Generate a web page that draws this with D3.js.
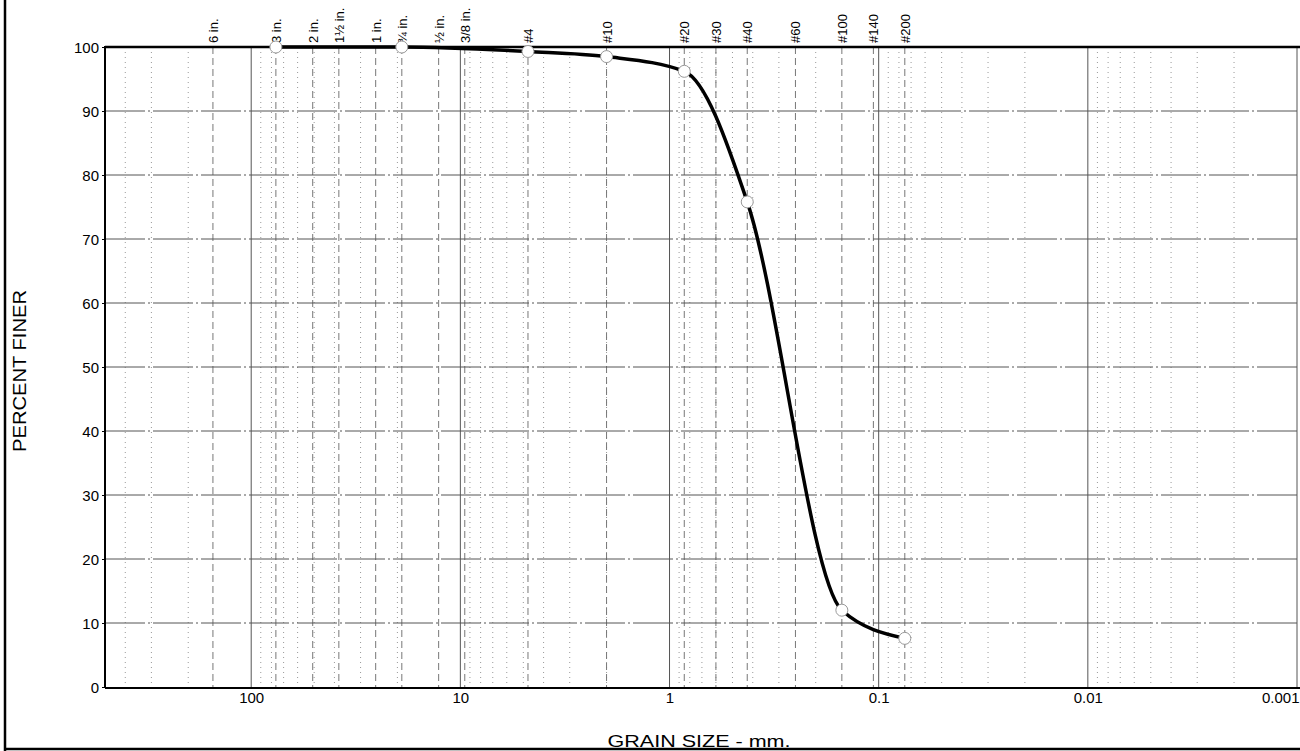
<!DOCTYPE html>
<html><head><meta charset="utf-8">
<script src="https://cdn.jsdelivr.net/npm/d3@7"></script>
<style>body{margin:0;background:#fff}svg{display:block}text{font-family:"Liberation Sans",Arial,sans-serif;fill:#000}</style>
</head><body><svg id="c" width="1300" height="751"></svg>
<script>
// ---- data ----
const sieveLabels = ["6 in.","3 in.","2 in.","1\u00bd in.","1 in.","\u00be in.","\u00bd in.","3/8 in.","#4","#10","#20","#30","#40","#60","#100","#140","#200"];
const sieveSizes  = [152.4, 76.2, 50.8, 38.1, 25.4, 19.05, 12.7, 9.525, 4.75, 2.0, 0.85, 0.6, 0.425, 0.25, 0.15, 0.106, 0.075];
const grainSize   = [76.2, 19.05, 4.75, 2.0, 0.85, 0.425, 0.15, 0.075];
const percentFiner= [100, 100, 99.3, 98.5, 96.2, 75.8, 12.0, 7.6];
const xTickValues = [100, 10, 1, 0.1, 0.01, 0.001];
const xTickLabels = ["100","10","1","0.1","0.01","0.001"];
const yTickValues = [0,10,20,30,40,50,60,70,80,90,100];

const svg = d3.select("#c");
const L=105, R=1297, T=47, B=687;
const x = d3.scaleLog().domain([500, 0.001]).range([L, R]);
const y = d3.scaleLinear().domain([0, 100]).range([B, T]);

// outer frame
svg.append("line").attr("x1",5).attr("x2",5).attr("y1",0).attr("y2",751).attr("stroke","#000").attr("stroke-width",2.5);
svg.append("line").attr("x1",5).attr("x2",1300).attr("y1",749).attr("y2",749).attr("stroke","#000").attr("stroke-width",2.5);

const grid = svg.append("g");
// minor log grid
const minors = [];
for (let e=-3; e<=2; e++) for (let k=1; k<=9; k++) { const v=k*Math.pow(10,e); if (v<=500 && v>=0.001) minors.push(v); }
const isDec = d => Math.abs(Math.log10(d)-Math.round(Math.log10(d)))<1e-9;
grid.selectAll(".mn").data(minors).join("line")
  .attr("x1",d=>x(d)).attr("x2",d=>x(d)).attr("y1",T).attr("y2",B)
  .attr("stroke",d=>isDec(d)?"#555":"#999")
  .attr("stroke-width",1)
  .attr("stroke-dasharray",d=>isDec(d)?null:"1,4");
// sieve lines
grid.selectAll(".sv").data(sieveSizes).join("line")
  .attr("x1",d=>x(d)).attr("x2",d=>x(d)).attr("y1",T).attr("y2",B)
  .attr("stroke","#777").attr("stroke-width",1).attr("stroke-dasharray","7,4");
// horizontal grid
grid.selectAll(".hz").data(yTickValues.filter(v=>v>0&&v<100)).join("line")
  .attr("x1",L).attr("x2",R).attr("y1",d=>y(d)).attr("y2",d=>y(d))
  .attr("stroke","#555").attr("stroke-width",1).attr("stroke-dasharray","40,3,2,3");

// axes frame
svg.append("line").attr("x1",L).attr("x2",R+3).attr("y1",T).attr("y2",T).attr("stroke","#000").attr("stroke-width",2.5);
svg.append("line").attr("x1",L).attr("x2",L).attr("y1",T-1).attr("y2",B+1).attr("stroke","#000").attr("stroke-width",2);
svg.append("line").attr("x1",L).attr("x2",R+3).attr("y1",B+1).attr("y2",B+1).attr("stroke","#000").attr("stroke-width",2);

// y axis
const ya = d3.axisLeft(y).tickValues(yTickValues).tickSize(3).tickPadding(3);
const yg = svg.append("g").attr("transform",`translate(${L},0)`).call(ya);
yg.select(".domain").remove();
yg.selectAll("text").style("font-size","15px").attr("dy","0.35em");
// x axis
const xa = d3.axisBottom(x).tickValues(xTickValues).tickFormat((d,i)=>xTickLabels[i]).tickSize(0).tickPadding(5);
const xg = svg.append("g").attr("transform",`translate(0,${B})`).call(xa);
xg.select(".domain").remove();
xg.selectAll("text").style("font-size","15px");
xg.selectAll(".tick").filter(d=>d===0.001).select("text").attr("text-anchor","end").attr("dx","2");

// sieve labels
svg.selectAll(".sl").data(sieveSizes).join("text")
  .attr("transform",d=>`translate(${x(d)+5},43) rotate(-90)`)
  .style("font-size","13px").text((d,i)=>sieveLabels[i]);

// axis titles
svg.append("text").attr("transform","translate(26,371) rotate(-90)").attr("text-anchor","middle")
  .style("font-size","18px").attr("textLength",162).attr("lengthAdjust","spacingAndGlyphs").text("PERCENT FINER");
svg.append("text").attr("x",699).attr("y",747).attr("text-anchor","middle")
  .style("font-size","17px").attr("textLength",183).attr("lengthAdjust","spacingAndGlyphs").text("GRAIN SIZE - mm.");

// curve
const pts = grainSize.map((g,i)=>[x(g), y(percentFiner[i])]);
svg.append("path").attr("d", d3.line().curve(d3.curveMonotoneX)(pts))
  .attr("fill","none").attr("stroke","#000").attr("stroke-width",3.5);
svg.selectAll(".pt").data(pts).join("circle")
  .attr("cx",d=>d[0]).attr("cy",d=>d[1]).attr("r",6)
  .attr("fill","#fff").attr("stroke","#999").attr("stroke-width",1);
</script></body></html>
